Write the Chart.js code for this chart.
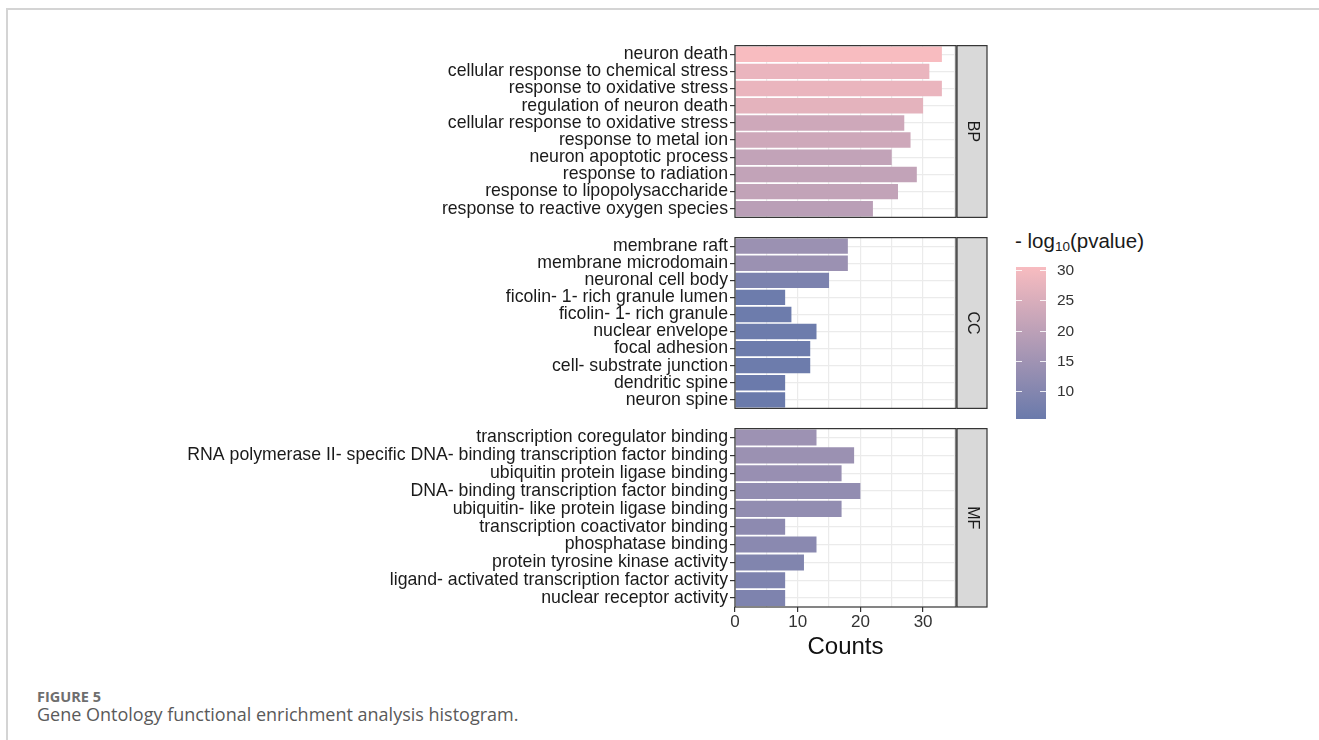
<!DOCTYPE html>
<html>
<head>
<meta charset="utf-8">
<script src="https://cdn.jsdelivr.net/npm/chart.js@4"></script>
<style>
    html, body { margin: 0; padding: 0; background: #fff; }
    body { width: 1319px; height: 740px; position: relative; overflow: hidden; font-family: "Liberation Sans", Arial, sans-serif; }
    .frame-top { position: absolute; left: 6px; top: 8px; width: 1313px; height: 0; border-top: 2px solid #d4d4d4; }
    .frame-left { position: absolute; left: 6px; top: 8px; width: 0; height: 732px; border-left: 2px solid #d4d4d4; }
    canvas { position: absolute; left: 0; }
    .legend-title { position: absolute; left: 1015px; top: 229px; font-size: 20.5px; color: #1a1a1a; white-space: nowrap; }
    .legend-title sub { font-size: 13.5px; vertical-align: -3px; }
    .colorbar { position: absolute; left: 1016px; width: 30px; }
    .cb-tick { position: absolute; height: 1px; width: 6px; background: rgba(255,255,255,0.85); }
    .cb-label { position: absolute; left: 1057px; font-size: 15.5px; color: #333; line-height: 16px; }
    .caption-label { position: absolute; left: 37px; top: 688px; font-family: "Open Sans", sans-serif; font-weight: 700; font-size: 14.5px; line-height: 18px; color: #6e6e6e; }
    .caption-text { position: absolute; left: 37px; top: 703px; font-family: "Open Sans", sans-serif; font-size: 18px; line-height: 22px; color: #5a5a5a; }
</style>
</head>
<body>
<div class="frame-top"></div>
<div class="frame-left"></div>

<canvas id="chart-bp"></canvas>
<canvas id="chart-cc"></canvas>
<canvas id="chart-mf"></canvas>

<div class="legend-title">- log<sub>10</sub>(pvalue)</div>
<div id="colorbar-wrap"></div>

<div class="caption-label">FIGURE 5</div>
<div class="caption-text">Gene Ontology functional enrichment analysis histogram.</div>

<script>
// Dados
const bpTerms = [
    'neuron death', 'cellular response to chemical stress', 'response to oxidative stress',
    'regulation of neuron death', 'cellular response to oxidative stress', 'response to metal ion',
    'neuron apoptotic process', 'response to radiation', 'response to lipopolysaccharide',
    'response to reactive oxygen species'
];
const bpCounts = [33, 31, 33, 30, 27, 28, 25, 29, 26, 22];
const bpLogP = [30.5, 28, 28, 27, 23, 23, 21, 21, 21, 19.5];

const ccTerms = [
    'membrane raft', 'membrane microdomain', 'neuronal cell body', 'ficolin- 1- rich granule lumen',
    'ficolin- 1- rich granule', 'nuclear envelope', 'focal adhesion', 'cell- substrate junction',
    'dendritic spine', 'neuron spine'
];
const ccCounts = [18, 18, 15, 8, 9, 13, 12, 12, 8, 8];
const ccLogP = [14, 14, 8.5, 6, 6, 6, 6, 6, 5.5, 5.4];

const mfTerms = [
    'transcription coregulator binding', 'RNA polymerase II- specific DNA- binding transcription factor binding',
    'ubiquitin protein ligase binding', 'DNA- binding transcription factor binding',
    'ubiquitin- like protein ligase binding', 'transcription coactivator binding', 'phosphatase binding',
    'protein tyrosine kinase activity', 'ligand- activated transcription factor activity',
    'nuclear receptor activity'
];
const mfCounts = [13, 19, 17, 20, 17, 8, 13, 11, 8, 8];
const mfLogP = [14.5, 14, 13.5, 12.5, 12.5, 11.5, 11, 9.5, 9, 9];

const xTickLabels = [0, 10, 20, 30];
const legendTicks = [10, 15, 20, 25, 30];
const logPMin = 5.4;
const logPMax = 30.5;

// Cores
const lowColor = [106, 122, 171];
const highColor = [248, 188, 192];

const colorFor = (v) => {
    const t = Math.max(0, Math.min(1, (v - logPMin) / (logPMax - logPMin)));
    const c = lowColor.map((lo, i) => Math.round(lo + (highColor[i] - lo) * t));
    return `rgb(${c[0]}, ${c[1]}, ${c[2]})`;
};

const FONT = '"Liberation Sans", Arial, sans-serif';

// Layout
const PANEL_LEFT = 735;
const CANVAS_W = 1000;
const STRIP_W = 30;
const PAD_TOP = 10;

// Borda do painel e faixa lateral (BP/CC/MF)
const facetPlugin = {
    id: 'facet',
    afterDraw(chart, args, opts) {
        const { ctx, chartArea: a } = chart;
        ctx.save();
        ctx.strokeStyle = '#333';
        ctx.lineWidth = 1.2;
        ctx.strokeRect(a.left, a.top, a.right - a.left, a.bottom - a.top);

        const sx = a.right + 1;
        ctx.fillStyle = '#d9d9d9';
        ctx.fillRect(sx, a.top, STRIP_W, a.bottom - a.top);
        ctx.strokeRect(sx, a.top, STRIP_W, a.bottom - a.top);

        ctx.translate(sx + STRIP_W / 2, (a.top + a.bottom) / 2);
        ctx.rotate(Math.PI / 2);
        ctx.fillStyle = '#1a1a1a';
        ctx.font = `16px ${FONT}`;
        ctx.textAlign = 'center';
        ctx.textBaseline = 'middle';
        ctx.fillText(opts.label, 0, 0);
        ctx.restore();
    }
};

function makePanel(canvasId, label, terms, counts, logP, top, height, showX) {
    const axisH = showX ? 55 : 0;
    const canvas = document.getElementById(canvasId);
    canvas.width = CANVAS_W;
    canvas.height = PAD_TOP + height + axisH + 6;
    canvas.style.top = (top - PAD_TOP) + 'px';

    return new Chart(canvas, {
        type: 'bar',
        data: {
            labels: terms,
            datasets: [{
                data: counts,
                backgroundColor: logP.map(colorFor),
                barPercentage: 0.9,
                categoryPercentage: 1.0
            }]
        },
        options: {
            indexAxis: 'y',
            responsive: false,
            animation: false,
            devicePixelRatio: 1,
            layout: { padding: { top: PAD_TOP, bottom: 6, left: 0, right: CANVAS_W - 956 } },
            plugins: {
                legend: { display: false },
                tooltip: { enabled: false },
                facet: { label: label }
            },
            scales: {
                x: {
                    min: 0,
                    max: 35.25,
                    afterFit: (scale) => { scale.height = axisH; },
                    border: { display: false },
                    grid: {
                        color: '#ebebeb',
                        lineWidth: 1.2,
                        drawTicks: showX,
                        tickLength: 5,
                        tickColor: (c) => xTickLabels.includes(c.tick && c.tick.value) ? '#333' : 'rgba(0,0,0,0)'
                    },
                    ticks: {
                        display: showX,
                        stepSize: 5,
                        includeBounds: false,
                        autoSkip: false,
                        maxRotation: 0,
                        padding: 0,
                        color: '#333',
                        font: { family: FONT, size: 17 },
                        callback: (v) => xTickLabels.includes(v) ? String(v) : ''
                    },
                    title: {
                        display: showX,
                        text: 'Counts',
                        color: '#111',
                        padding: 0,
                        font: { family: FONT, size: 24 }
                    }
                },
                y: {
                    afterFit: (scale) => { scale.width = PANEL_LEFT; },
                    border: { display: false },
                    grid: {
                        offset: false,
                        color: '#ebebeb',
                        lineWidth: 1.2,
                        tickLength: 5,
                        tickColor: '#333'
                    },
                    ticks: {
                        autoSkip: false,
                        padding: 2,
                        color: '#1a1a1a',
                        font: { family: FONT, size: 17.7 }
                    }
                }
            }
        },
        plugins: [facetPlugin]
    });
}

makePanel('chart-bp', 'BP', bpTerms, bpCounts, bpLogP, 43, 181, false);
makePanel('chart-cc', 'CC', ccTerms, ccCounts, ccLogP, 235, 180, false);
makePanel('chart-mf', 'MF', mfTerms, mfCounts, mfLogP, 426, 181, true);

// Legenda (barra de cores)
function buildColorbar() {
    const wrap = document.getElementById('colorbar-wrap');
    const top = 267, height = 152;
    const bar = document.createElement('div');
    bar.className = 'colorbar';
    bar.style.top = top + 'px';
    bar.style.height = height + 'px';
    bar.style.background = `linear-gradient(to bottom, ${colorFor(logPMax)}, ${colorFor(logPMin)})`;
    wrap.appendChild(bar);

    legendTicks.forEach(v => {
        const y = top + (logPMax - v) / (logPMax - logPMin) * height;
        [1016, 1040].forEach(x => {
            const t = document.createElement('div');
            t.className = 'cb-tick';
            t.style.left = x + 'px';
            t.style.top = Math.round(y) + 'px';
            wrap.appendChild(t);
        });
        const lab = document.createElement('div');
        lab.className = 'cb-label';
        lab.style.top = Math.round(y - 8) + 'px';
        lab.innerText = v;
        wrap.appendChild(lab);
    });
}
buildColorbar();
</script>
</body>
</html>
